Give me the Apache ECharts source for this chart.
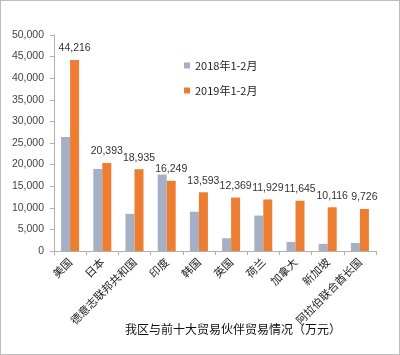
<!DOCTYPE html>
<html><head><meta charset="utf-8">
<script src="https://cdn.jsdelivr.net/npm/echarts@6/dist/echarts.min.js"></script>
<style>html,body{margin:0;padding:0;background:#fff}#c{width:398px;height:353px;border:1px solid #bdbdbd}</style>
</head><body><div id="c"></div>
<script>
var categories = ['美国','日本','德意志联邦共和国','印度','韩国','英国','荷兰','加拿大','新加坡','阿拉伯联合酋长国'];
var values2018 = [26400, 19000, 8600, 17700, 9100, 2950, 8200, 2100, 1650, 1850];
var values2019 = [44216, 20393, 18935, 16249, 13593, 12369, 11929, 11645, 10116, 9726];
var seriesNames = ['2018年1-2月','2019年1-2月'];
var titleText = '我区与前十大贸易伙伴贸易情况（万元）';
var chart = echarts.init(document.getElementById('c'));
var font = '"Noto Sans CJK SC", "Liberation Sans", sans-serif';
chart.setOption({
  animation:false,
  textStyle:{fontFamily:font},
  title:{text:titleText,left:227,top:317,textAlign:'center',textStyle:{fontSize:12,fontWeight:'normal',color:'#111',fontFamily:font}},
  legend:{orient:'vertical',left:178,top:54,itemWidth:6,itemHeight:6,itemGap:14,icon:'rect',
    textStyle:{fontSize:11,color:'#222',fontFamily:font},data:seriesNames},
  grid:{left:53,right:23,top:34,bottom:103,containLabel:false},
  xAxis:{type:'category',data:categories,
    axisLine:{lineStyle:{color:'#b0b0b0'}},
    axisTick:{show:true,alignWithLabel:false,length:4,lineStyle:{color:'#b0b0b0'}},
    axisLabel:{rotate:45,interval:0,fontSize:11,color:'#222',margin:9,fontFamily:font}},
  yAxis:{type:'value',min:0,max:50000,interval:5000,
    axisLine:{show:true,lineStyle:{color:'#b0b0b0'}},
    axisTick:{show:true,length:4,lineStyle:{color:'#b0b0b0'}},
    splitLine:{show:false},
    axisLabel:{fontSize:10.5,color:'#444',margin:10,fontFamily:'"Liberation Sans", sans-serif',
      formatter:function(v){return v.toLocaleString('en-US');}}},
  series:[
    {name:seriesNames[0],type:'bar',data:values2018,barWidth:9,barGap:'0%',itemStyle:{color:'#A5AFC6'}},
    {name:seriesNames[1],type:'bar',data:values2019,barWidth:9,itemStyle:{color:'#ED7D31'},
      label:{show:true,position:'top',distance:6,fontSize:10.5,color:'#333',fontFamily:'"Liberation Sans", sans-serif',
        formatter:function(p){return p.value.toLocaleString('en-US');}}}
  ]
});
</script></body></html>
